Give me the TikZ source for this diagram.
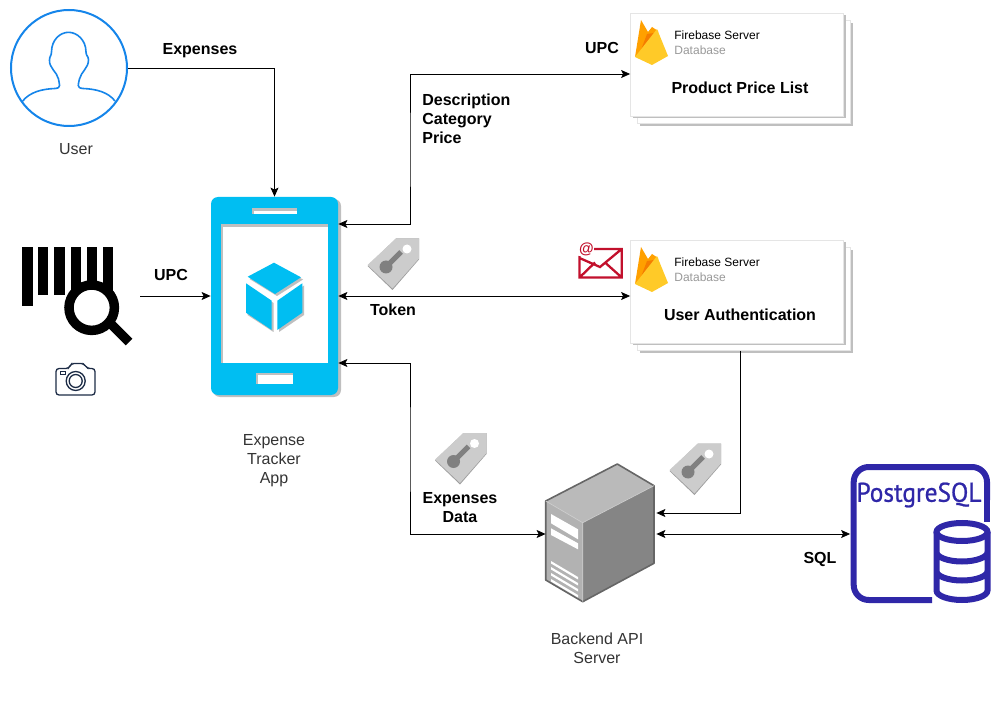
\documentclass[tikz,border=0pt]{standalone}
\usepackage{fontspec}
\setmainfont{Liberation Sans}
\newfontfamily\pgfont[FakeBold=0.8,FakeStretch=0.94]{PT Sans}
\usepackage{xcolor}
\usetikzlibrary{shadows,arrows.meta}

\definecolor{phonecyan}{HTML}{00BEF2}
\definecolor{userblue}{HTML}{1585EA}
\definecolor{pgblue}{HTML}{2F27A8}
\definecolor{mailred}{HTML}{C2102C}
\definecolor{camnavy}{HTML}{1C2B45}
\definecolor{fireamber}{HTML}{FFA000}
\definecolor{fireorange}{HTML}{F57C00}
\definecolor{fireyellow}{HTML}{FFCA28}

\tikzset{
  pics/firelogo/.style={code={
    \fill[fireamber] (-17,14) -- (-11,-23) -- (-4,-11) -- (0,-16) -- (6,-12) -- (6,0) -- cycle;
    \fill[fireorange] (-11,7) -- (-5,-9) -- (2,-10) -- (1,-1) -- cycle;
    \fill[fireyellow] (-17,14) -- (5,-14) -- (16,13) -- (0,22) -- cycle;
  }},
  pics/keytag/.style={code={
    \fill[black!38] (-25.5,2) -- (3,-25.5) -- (26,-25.5) -- (26,-4.5) -- (-0.5,26) -- cycle;
    \fill[black!20] (-25.5,1) -- (3,-25.5) -- (26,-25.5) -- (26,-5.5) -- (-0.5,24.5) -- cycle;
    \fill[white] (14,-15) circle (4.5);
    \fill[black!50] (-7,3) circle (6.5);
    \draw[black!50, line width=5pt] (-6,2) -- (8,-12);
  }},
}

\begin{document}
\begin{tikzpicture}[x=1pt, y=-1pt, >={Stealth[length=9pt,width=8pt,inset=2pt]},
  line width=0.8pt,
  font=\fontsize{16}{19}\selectfont,
  boldlabel/.style={font=\fontsize{16}{19}\selectfont\bfseries, align=center, inner sep=0pt},
  iconlabel/.style={text=black!80, align=center, inner sep=0pt},
  dbcard/.style={draw=black!10, fill=white, inner sep=0pt, minimum width=213pt, minimum height=103pt,
                 drop shadow={shadow xshift=2.5pt, shadow yshift=-2.5pt, fill=black!25, opacity=1}},
  dbname/.style={anchor=west, inner sep=0pt, font=\fontsize{12}{14}\selectfont},
]
\useasboundingbox (0,0) rectangle (1001,708);

% user
\node[circle, draw=userblue, line width=2pt, fill=white, minimum size=116pt, inner sep=0pt] (user) at (69,68) {};
\draw[userblue, line width=1.6pt, line join=round]
  (22.7,101) .. controls (30,92) and (42,89) .. (55,88.5)
  .. controls (62,88) and (59,84) .. (58.5,79)
  .. controls (57,72) and (49,68) .. (49.5,60)
  .. controls (49.5,56) and (51.5,56) .. (51.5,52)
  .. controls (51.5,40) and (60,32.3) .. (68.5,32.3)
  .. controls (77,32.3) and (86,40) .. (86,52)
  .. controls (86,56) and (88.5,56) .. (88.5,60)
  .. controls (88.5,68) and (81,72) .. (79.5,79)
  .. controls (78.5,84) and (76,88) .. (83,88.5)
  .. controls (96,89) and (108,92) .. (115,101);
\node[iconlabel] (userlabel) at (76,149) {User};

% scanner
\node[inner sep=0pt, minimum width=118pt, minimum height=100pt] (scanner) at (81,296) {};
\fill (21.7,246.7) rectangle (32.7,306);
\fill (37.7,246.7) rectangle (48.3,295);
\fill (54.3,246.7) rectangle (65,295);
\fill (70.7,246.7) rectangle (81,295);
\fill (86.7,246.7) rectangle (96.7,295);
\fill (102.7,246.7) rectangle (113.3,295);
\draw[line width=9.5pt, fill=white] (91.7,307.7) circle (22.7);
\draw[line width=9.5pt] (110,323) -- (129,342);

% camera
\node[inner sep=0pt, minimum width=40pt, minimum height=32pt] (camera) at (75.7,379) {};
\draw[camnavy, line width=1.3pt, rounded corners=3pt]
  (56,368.5) -- (69,368.5) -- (71,363.5) -- (84,363.5) -- (87,368.5) -- (95,368.5) -- (95,395) -- (56,395) -- cycle;
\draw[camnavy, line width=1.3pt] (75.7,381) circle (9.5) (75.7,381) circle (6.5);
\draw[camnavy, line width=1pt] (60,371.5) rectangle (65,374.5);

% phone
\fill[black!25, rounded corners=7pt] (213,199) rectangle (341,397);
\node[fill=phonecyan, rounded corners=7pt, inner sep=0pt, minimum width=127pt, minimum height=198pt] (phone) at (274.5,296) {};
\fill[black!25] (221,224) rectangle (328,363);
\fill[white] (223,227) rectangle (328,363);
\fill[black!25] (251.7,208) rectangle (296.7,214);
\fill[white] (253.5,211) rectangle (296.7,214);
\fill[black!25] (256,373) rectangle (293,384);
\fill[white] (258,375) rectangle (293,384);
\fill[black!25] (249.5,279) -- (276,265) -- (303,279.5) -- (277,296) -- cycle
  (247.5,285.5) -- (273.5,303) -- (273.5,332) -- (247.5,315) -- cycle
  (279,303) -- (304,285.5) -- (304,315) -- (279,332) -- cycle;
\fill[phonecyan] (247.7,276.7) -- (274,262.7) -- (301,277.3) -- (275,294) -- cycle
  (246,283.3) -- (271.7,300.7) -- (271.7,330) -- (246,312.7) -- cycle
  (277.3,300.7) -- (302.3,283.3) -- (302.3,312.7) -- (277.3,330) -- cycle;
\node[iconlabel] (phonelabel) at (274,461) {Expense\\Tracker\\App};

% firebase cards
\node[dbcard] (fboneback) at (744,72) {};
\node[dbcard] (fbone) at (737,64.5) {};
\pic at (652,43) {firelogo};
\node[dbname] (fbonetitle) at (674,35.5) {Firebase Server};
\node[dbname, text=black!40] (fbonesub) at (674,50.5) {Database};
\node[boldlabel] (fbonename) at (740,88) {Product Price List};

\node[dbcard] (fbtwoback) at (744,299) {};
\node[dbcard] (fbtwo) at (737,291.5) {};
\pic at (652,270) {firelogo};
\node[dbname] (fbtwotitle) at (674,262.5) {Firebase Server};
\node[dbname, text=black!40] (fbtwosub) at (674,277.5) {Database};
\node[boldlabel] (fbtwoname) at (740,315) {User Authentication};

% mail
\node[inner sep=0pt, minimum width=43pt, minimum height=29pt] (mail) at (600.5,263) {};
\draw[mailred, line width=2.3pt]
  (593,249) -- (621.7,249) -- (621.7,277.5) -- (579.5,277.5) -- (579.5,256)
  (579.5,258) -- (600,267) -- (621.7,249)
  (579.5,277.5) -- (595,262.5) (621.7,277.5) -- (605,262.5);
\node[inner sep=0pt, text=mailred, font=\fontsize{15}{15}\selectfont\bfseries, fill=white] (mailat) at (586.5,249) {@};

% server
\node[inner sep=0pt, minimum width=110pt, minimum height=140pt] (server) at (601,534) {};
\fill[black!27] (545.7,501) -- (617.3,464) -- (654,485.7) -- (582.7,522.7) -- cycle;
\fill[black!30] (545.7,501) -- (582.7,522.7) -- (582.7,601.7) -- (545.7,580) -- cycle;
\fill[black!48] (582.7,522.7) -- (654,485.7) -- (654,563.3) -- (582.7,601.7) -- cycle;
\draw[black!60, line width=1.6pt, line join=round] (545.7,501) -- (617.3,464) -- (654,485.7) -- (654,563.3)
  -- (582.7,601.7) -- (545.7,580) -- cycle;
\draw[white!80!black, line width=0.7pt] (545.7,501) -- (582.7,522.7) -- (654,485.7) (582.7,522.7) -- (582.7,601.7);
\fill[white] (551,514) -- (578,529.3) -- (578,539.3) -- (551,523.3) -- cycle
  (551,528.3) -- (578,543.3) -- (578,549.3) -- (551,535) -- cycle;
\foreach \ytop in {561,567,573,579}
  \fill[white] (551,\ytop) -- (578,\ytop+16) -- (578,\ytop+18.5) -- (551,\ytop+2.5) -- cycle;
\node[iconlabel] (serverlabel) at (597,648.5) {Backend API\\Server};

% postgres
\node[inner sep=0pt, minimum width=140pt, minimum height=140pt] (pg) at (920.5,534) {};
\draw[pgblue, line width=6pt, rounded corners=15pt]
  (932,600) -- (853.7,600) -- (853.7,467) -- (987,467) -- (987,500);
\draw[pgblue, line width=6pt] (987,490) -- (987,522);
\node[inner sep=0pt, text=pgblue, font=\fontsize{27}{27}\selectfont\pgfont] (pgname) at (919,495) {PostgreSQL};
\draw[pgblue, line width=6pt, fill=white] (962,532) ellipse (25.5 and 9);
\draw[pgblue, line width=6pt]
  (936.5,532) -- (936.5,590.5) arc[start angle=180, end angle=360, x radius=25.5, y radius=-9.5] -- (987.5,532)
  (936.5,552) arc[start angle=180, end angle=360, x radius=25.5, y radius=-9.5]
  (936.5,571) arc[start angle=180, end angle=360, x radius=25.5, y radius=-9.5];

% tags
\pic at (393,264) {keytag};
\pic at (460.5,458.5) {keytag};
\pic at (695,469) {keytag};

% connectors
\coordinate (bustop) at (410,150);
\coordinate (busbot) at (410,450);
\draw[->] (user.east) -| (phone.north);
\draw[->] (scanner.east) -- (phone.west);
\draw[<->] ([yshift=72pt]phone.east) -| (bustop) |- ([yshift=-9.5pt]fbone.west);
\draw[<->] (phone.east) -- ([yshift=-4.5pt]fbtwo.west);
\draw[<->] ([yshift=-67pt]phone.east) -| (busbot) |- (server.west);
\draw[->] (fbtwoback.south -| fbonename) |- ([yshift=21pt]server.east);
\draw[<->] (server.east) -- (pg.west);

% labels
\node[boldlabel] (lblexp) at (200,51) {Expenses};
\node[boldlabel] (lblscan) at (171,275) {UPC};
\node[boldlabel] (lblupc) at (602,48) {UPC};
\node[boldlabel, align=left, anchor=west] (lbldesc) at (422,119) {Description\\Category\\Price};
\node[boldlabel] (lbltoken) at (393,310) {Token};
\node[boldlabel] (lbldata) at (460,508) {Expenses\\Data};
\node[boldlabel] (lblsql) at (820,559) {SQL};

\end{tikzpicture}
\end{document}
